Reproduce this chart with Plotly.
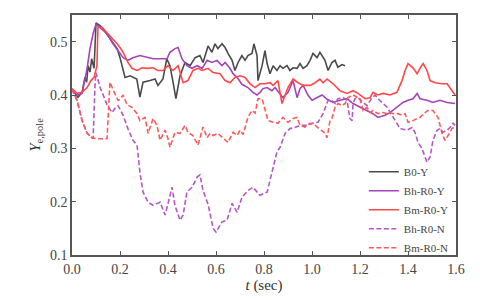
import plotly.graph_objects as go

# ---- data (t in sec, Y_e,pole) ----
t_b0y = [0.000, 0.0125, 0.025, 0.042, 0.054, 0.061, 0.067, 0.075, 0.082, 0.092, 0.100, 0.117, 0.129, 0.150,
         0.171, 0.188, 0.200, 0.221, 0.242, 0.270, 0.283, 0.296, 0.325, 0.346, 0.358, 0.379, 0.395, 0.408,
         0.421, 0.433, 0.450, 0.471, 0.492, 0.513, 0.533, 0.546, 0.567, 0.583, 0.596, 0.608, 0.625, 0.638,
         0.650, 0.667, 0.679, 0.692, 0.708, 0.721, 0.733, 0.750, 0.758, 0.771, 0.775, 0.792, 0.804, 0.813,
         0.825, 0.838, 0.854, 0.867, 0.879, 0.896, 0.908, 0.921, 0.938, 0.950, 0.963, 0.979, 0.992, 1.004,
         1.021, 1.033, 1.054, 1.067, 1.083, 1.096, 1.108, 1.125, 1.138]
y_b0y = [0.410, 0.402, 0.396, 0.405, 0.433, 0.424, 0.455, 0.443, 0.468, 0.450, 0.535, 0.530, 0.524, 0.511,
         0.498, 0.487, 0.470, 0.433, 0.436, 0.430, 0.396, 0.424, 0.427, 0.430, 0.418, 0.430, 0.468, 0.455,
         0.424, 0.393, 0.436, 0.461, 0.455, 0.470, 0.474, 0.461, 0.492, 0.480, 0.496, 0.487, 0.496, 0.489,
         0.478, 0.465, 0.446, 0.461, 0.474, 0.465, 0.474, 0.478, 0.496, 0.474, 0.427, 0.455, 0.483, 0.459,
         0.440, 0.455, 0.446, 0.455, 0.450, 0.455, 0.446, 0.451, 0.450, 0.459, 0.450, 0.455, 0.465, 0.478,
         0.470, 0.480, 0.465, 0.446, 0.461, 0.465, 0.452, 0.457, 0.455]

t_bhy = [0.000, 0.021, 0.042, 0.063, 0.075, 0.088, 0.100, 0.117, 0.146, 0.171, 0.200, 0.213, 0.233, 0.254,
         0.283, 0.313, 0.338, 0.367, 0.396, 0.408, 0.429, 0.442, 0.458, 0.479, 0.500, 0.521, 0.542, 0.563,
         0.583, 0.604, 0.625, 0.638, 0.658, 0.671, 0.688, 0.708, 0.733, 0.754, 0.771, 0.783, 0.796, 0.813,
         0.833, 0.846, 0.867, 0.879, 0.900, 0.921, 0.938, 0.950, 0.963, 0.983, 1.000, 1.021, 1.042, 1.063,
         1.088, 1.117, 1.146, 1.171, 1.200, 1.229, 1.254, 1.275, 1.304, 1.325, 1.354, 1.379, 1.400, 1.421,
         1.438, 1.450, 1.479, 1.504, 1.533, 1.563, 1.596]
y_bhy = [0.408, 0.400, 0.403, 0.450, 0.487, 0.515, 0.533, 0.527, 0.515, 0.496, 0.478, 0.470, 0.465, 0.470,
         0.474, 0.470, 0.468, 0.468, 0.468, 0.480, 0.487, 0.489, 0.468, 0.455, 0.450, 0.455, 0.450, 0.465,
         0.461, 0.465, 0.455, 0.461, 0.450, 0.440, 0.433, 0.420, 0.414, 0.405, 0.400, 0.405, 0.412, 0.414,
         0.408, 0.414, 0.403, 0.395, 0.405, 0.427, 0.395, 0.412, 0.418, 0.400, 0.390, 0.395, 0.400, 0.392,
         0.386, 0.390, 0.393, 0.384, 0.377, 0.371, 0.365, 0.358, 0.362, 0.367, 0.377, 0.386, 0.390, 0.393,
         0.403, 0.393, 0.390, 0.386, 0.390, 0.386, 0.384]

t_bmy = [0.000, 0.021, 0.042, 0.063, 0.079, 0.092, 0.104, 0.108, 0.125, 0.146, 0.167, 0.188, 0.200, 0.213,
         0.233, 0.250, 0.271, 0.292, 0.313, 0.338, 0.358, 0.379, 0.400, 0.421, 0.442, 0.463, 0.483, 0.504,
         0.525, 0.542, 0.567, 0.588, 0.617, 0.638, 0.658, 0.679, 0.700, 0.721, 0.742, 0.763, 0.783, 0.804,
         0.825, 0.838, 0.858, 0.875, 0.900, 0.921, 0.942, 0.963, 0.992, 1.013, 1.033, 1.046, 1.063, 1.088,
         1.117, 1.146, 1.171, 1.192, 1.221, 1.242, 1.254, 1.275, 1.296, 1.325, 1.354, 1.375, 1.388, 1.400,
         1.421, 1.438, 1.450, 1.463, 1.479, 1.492, 1.513, 1.542, 1.563, 1.583, 1.596]
y_bmy = [0.412, 0.403, 0.405, 0.414, 0.427, 0.433, 0.455, 0.527, 0.527, 0.517, 0.507, 0.496, 0.489, 0.480,
         0.461, 0.450, 0.446, 0.451, 0.450, 0.451, 0.446, 0.446, 0.455, 0.446, 0.455, 0.423, 0.427, 0.446,
         0.450, 0.446, 0.450, 0.442, 0.440, 0.427, 0.423, 0.433, 0.436, 0.433, 0.421, 0.414, 0.421, 0.421,
         0.423, 0.418, 0.427, 0.384, 0.414, 0.430, 0.423, 0.418, 0.418, 0.423, 0.430, 0.423, 0.430, 0.421,
         0.408, 0.403, 0.408, 0.403, 0.393, 0.395, 0.405, 0.400, 0.403, 0.400, 0.405, 0.427, 0.446, 0.459,
         0.451, 0.440, 0.450, 0.459, 0.446, 0.427, 0.423, 0.421, 0.421, 0.408, 0.400]

t_bhn = [0.000, 0.021, 0.042, 0.063, 0.083, 0.088, 0.096, 0.100, 0.117, 0.146, 0.167, 0.179, 0.192, 0.213,
         0.233, 0.254, 0.271, 0.283, 0.296, 0.317, 0.338, 0.367, 0.388, 0.408, 0.417, 0.429, 0.450, 0.463,
         0.479, 0.500, 0.521, 0.533, 0.546, 0.567, 0.588, 0.600, 0.625, 0.646, 0.667, 0.688, 0.708, 0.733,
         0.754, 0.783, 0.813, 0.825, 0.838, 0.854, 0.867, 0.888, 0.908, 0.929, 0.950, 0.979, 1.000, 1.025,
         1.046, 1.067, 1.083, 1.096, 1.108, 1.129, 1.146, 1.158, 1.167, 1.171, 1.179, 1.192, 1.213, 1.229,
         1.250, 1.263, 1.275, 1.296, 1.313, 1.333, 1.346, 1.367, 1.396, 1.417, 1.429, 1.442, 1.458, 1.471,
         1.479, 1.492, 1.504, 1.521, 1.533, 1.546, 1.563, 1.575, 1.588, 1.596]
y_bhn = [0.410, 0.390, 0.352, 0.328, 0.320, 0.318, 0.420, 0.442, 0.414, 0.382, 0.367, 0.375, 0.380, 0.362,
         0.337, 0.315, 0.306, 0.255, 0.218, 0.199, 0.193, 0.199, 0.175, 0.212, 0.227, 0.193, 0.165, 0.175,
         0.218, 0.227, 0.246, 0.250, 0.221, 0.195, 0.150, 0.143, 0.162, 0.165, 0.197, 0.180, 0.208, 0.221,
         0.227, 0.212, 0.218, 0.240, 0.264, 0.293, 0.302, 0.328, 0.337, 0.339, 0.343, 0.343, 0.347, 0.349,
         0.365, 0.390, 0.390, 0.384, 0.393, 0.395, 0.390, 0.356, 0.352, 0.384, 0.393, 0.395, 0.386, 0.380,
         0.395, 0.400, 0.393, 0.384, 0.377, 0.362, 0.352, 0.337, 0.334, 0.339, 0.330, 0.311, 0.300, 0.281,
         0.274, 0.284, 0.315, 0.334, 0.337, 0.330, 0.334, 0.339, 0.347, 0.343]

t_bmn = [0.000, 0.021, 0.042, 0.063, 0.083, 0.104, 0.146, 0.158, 0.171, 0.192, 0.200, 0.213, 0.229, 0.250,
         0.271, 0.283, 0.304, 0.317, 0.338, 0.354, 0.367, 0.388, 0.400, 0.408, 0.429, 0.450, 0.471, 0.483,
         0.504, 0.525, 0.546, 0.563, 0.575, 0.588, 0.608, 0.629, 0.650, 0.671, 0.688, 0.700, 0.713, 0.733,
         0.750, 0.763, 0.775, 0.792, 0.804, 0.817, 0.838, 0.858, 0.879, 0.900, 0.921, 0.938, 0.950, 0.971,
         0.992, 1.013, 1.033, 1.050, 1.063, 1.075, 1.083, 1.096, 1.108, 1.125, 1.138, 1.150, 1.171, 1.188,
         1.200, 1.213, 1.229, 1.242, 1.254, 1.275, 1.296, 1.313, 1.325, 1.338, 1.358, 1.375, 1.388, 1.400,
         1.421, 1.438, 1.450, 1.471, 1.483, 1.504, 1.525, 1.542, 1.554, 1.567, 1.583, 1.596]
y_bmn = [0.412, 0.390, 0.352, 0.328, 0.320, 0.318, 0.318, 0.424, 0.410, 0.390, 0.392, 0.400, 0.382, 0.377,
         0.365, 0.352, 0.358, 0.328, 0.356, 0.343, 0.315, 0.334, 0.318, 0.302, 0.330, 0.328, 0.343, 0.330,
         0.324, 0.306, 0.340, 0.320, 0.328, 0.324, 0.328, 0.320, 0.311, 0.330, 0.324, 0.334, 0.326, 0.358,
         0.371, 0.366, 0.393, 0.393, 0.371, 0.352, 0.349, 0.347, 0.358, 0.349, 0.356, 0.358, 0.343, 0.340,
         0.347, 0.343, 0.336, 0.330, 0.320, 0.352, 0.356, 0.377, 0.384, 0.380, 0.384, 0.395, 0.400, 0.395,
         0.393, 0.371, 0.377, 0.367, 0.371, 0.365, 0.367, 0.365, 0.367, 0.365, 0.365, 0.362, 0.365, 0.349,
         0.352, 0.356, 0.358, 0.367, 0.371, 0.371, 0.358, 0.328, 0.315, 0.324, 0.337, 0.341]

x_ticks = [0.0, 0.2, 0.4, 0.6, 0.8, 1.0, 1.2, 1.4, 1.6]
x_tick_labels = ["0.0", "0.2", "0.4", "0.6", "0.8", "1.0", "1.2", "1.4", "1.6"]
y_ticks = [0.1, 0.2, 0.3, 0.4, 0.5]
y_tick_labels = ["0.1", "0.2", "0.3", "0.4", "0.5"]

series = [
    ("B0-Y", t_b0y, y_b0y, "#4a4a4a", "solid"),
    ("Bh-R0-Y", t_bhy, y_bhy, "#a444b6", "solid"),
    ("Bm-R0-Y", t_bmy, y_bmy, "#ff4848", "solid"),
    ("Bh-R0-N", t_bhn, y_bhn, "#b259c2", "5px,2.5px"),
    ("Bm-R0-N", t_bmn, y_bmn, "#ff5a5a", "5px,2.5px"),
]

FONT = "Liberation Serif"
fig = go.Figure()
for name, tx, yy, col, dash in series:
    fig.add_trace(go.Scatter(x=tx, y=yy, mode="lines", name=name,
                             line=dict(color=col, width=1.6, dash=dash)))

axis_common = dict(showline=True, linecolor="#555555", linewidth=1.6, mirror="ticks",
                   ticks="inside", ticklen=4, tickwidth=1.2, tickcolor="#555555",
                   showgrid=False, zeroline=False, automargin=False,
                   tickfont=dict(family=FONT, size=14, color="#444444"))
fig.update_xaxes(range=[0, 1.6], tickvals=x_ticks, ticktext=x_tick_labels,
                 title=dict(text="<i>t</i> (sec)", font=dict(family=FONT, size=15, color="#333333"),
                            standoff=4),
                 **axis_common)
fig.update_yaxes(range=[0.1, 0.55], tickvals=y_ticks, ticktext=y_tick_labels,
                 title=dict(text="<i>Y</i><sub>e,pole</sub>", font=dict(family=FONT, size=15, color="#333333"),
                            standoff=6),
                 **axis_common)
fig.update_layout(
    width=480, height=300,
    margin=dict(l=64, r=32, t=7, b=53),
    paper_bgcolor="white", plot_bgcolor="white",
    showlegend=True,
    legend=dict(x=0.76, y=-0.03, xanchor="left", yanchor="bottom",
                bgcolor="rgba(0,0,0,0)", borderwidth=0,
                font=dict(family=FONT, size=11, color="#444444"),
                itemwidth=30, tracegroupgap=0),
)
fig.write_html("out.html")
